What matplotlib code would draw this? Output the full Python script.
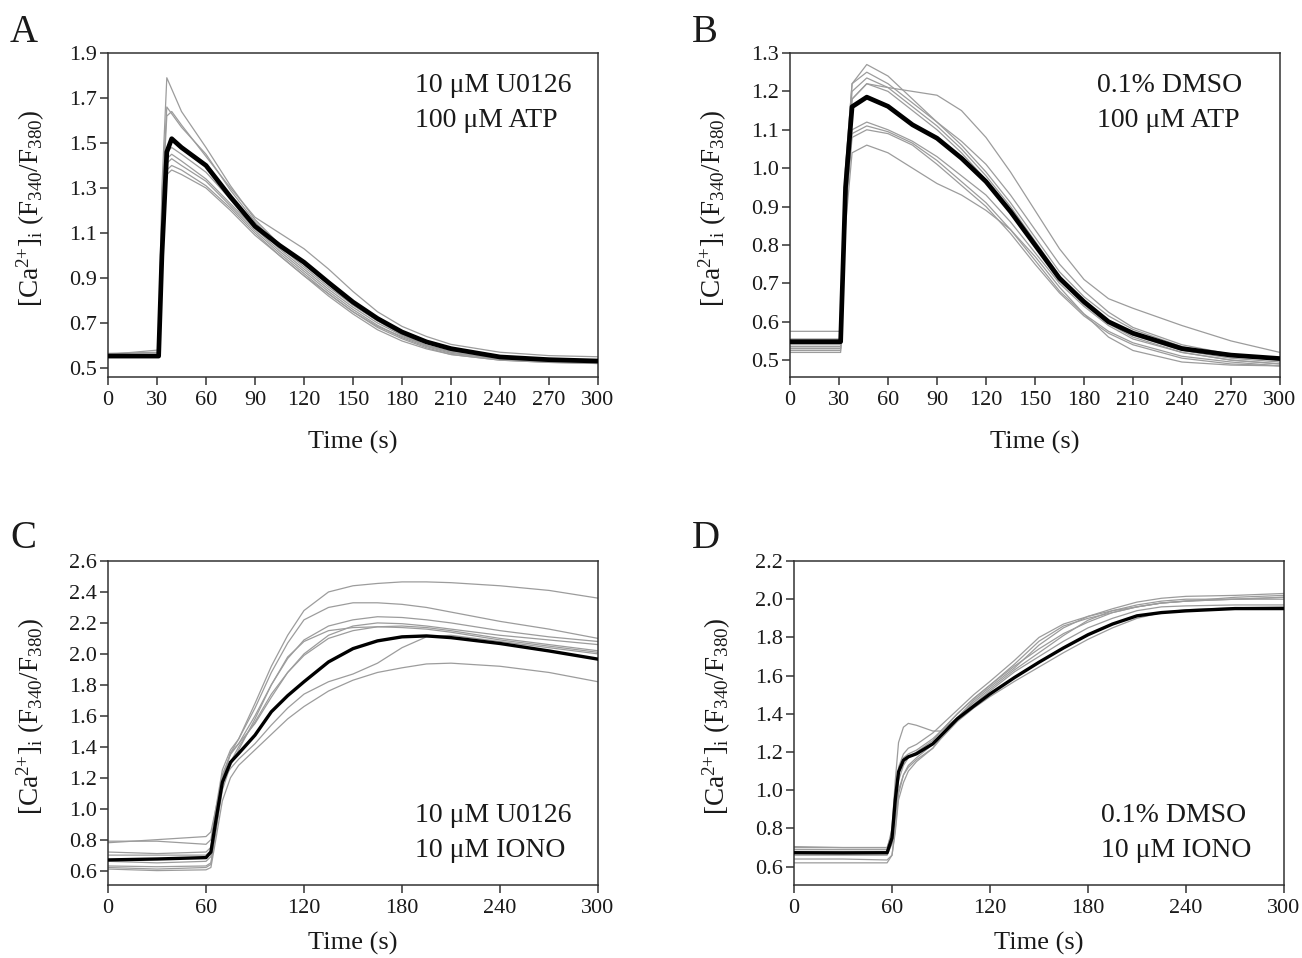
import matplotlib

matplotlib.use("Agg")

import matplotlib.pyplot as plt

FIG_W = 1302
FIG_H = 958
SERIF = "Liberation Serif"
TRACE_COLOR = "#9c9c9c"
FRAME_COLOR = "#333333"

# ---- panel A: 10 uM U0126 + 100 uM ATP ----
A_TIME = [0, 31, 33, 36, 39, 45, 60, 75, 90, 105, 120, 135, 150, 165, 180, 195, 210, 240, 270, 300]
A_MEAN = [0.553, 0.553, 1.00, 1.46, 1.519, 1.48, 1.40, 1.26, 1.13, 1.045, 0.97, 0.88, 0.793, 0.72, 0.66,
          0.616, 0.586, 0.549, 0.537, 0.531]
A_TRACES = [
    [0.56, 0.56, 1.30, 1.79, 1.74, 1.64, 1.48, 1.31, 1.16, 1.05, 0.96, 0.87, 0.78, 0.71, 0.65, 0.60, 0.57, 0.54, 0.535, 0.53],
    [0.555, 0.555, 1.25, 1.66, 1.63, 1.57, 1.45, 1.29, 1.15, 1.04, 0.95, 0.86, 0.78, 0.71, 0.65, 0.61, 0.58, 0.545, 0.535, 0.53],
    [0.565, 0.57, 1.20, 1.62, 1.64, 1.58, 1.44, 1.30, 1.17, 1.10, 1.03, 0.94, 0.84, 0.75, 0.685, 0.64, 0.605, 0.57, 0.555, 0.55],
    [0.55, 0.55, 1.15, 1.46, 1.48, 1.45, 1.37, 1.25, 1.13, 1.03, 0.94, 0.85, 0.77, 0.70, 0.645, 0.60, 0.57, 0.54, 0.53, 0.525],
    [0.56, 0.56, 1.10, 1.43, 1.45, 1.42, 1.34, 1.23, 1.12, 1.02, 0.93, 0.84, 0.76, 0.69, 0.635, 0.595, 0.565, 0.54, 0.53, 0.525],
    [0.55, 0.55, 1.10, 1.41, 1.43, 1.40, 1.33, 1.22, 1.11, 1.01, 0.92, 0.83, 0.75, 0.68, 0.63, 0.59, 0.56, 0.535, 0.525, 0.52],
    [0.56, 0.58, 1.10, 1.38, 1.40, 1.38, 1.31, 1.21, 1.10, 1.00, 0.91, 0.82, 0.74, 0.67, 0.62, 0.585, 0.56, 0.535, 0.525, 0.52],
    [0.555, 0.56, 1.05, 1.36, 1.38, 1.36, 1.30, 1.20, 1.09, 1.00, 0.91, 0.83, 0.75, 0.685, 0.64, 0.60, 0.575, 0.55, 0.54, 0.535],
]

# ---- panel B: 0.1% DMSO + 100 uM ATP ----
B_TIME = [0, 31, 34, 38, 47, 60, 75, 90, 105, 120, 135, 150, 165, 180, 195, 210, 240, 270, 300]
B_MEAN = [0.548, 0.548, 0.95, 1.16, 1.185, 1.161, 1.113, 1.078, 1.026, 0.965, 0.887, 0.80, 0.713, 0.652,
          0.60, 0.57, 0.53, 0.513, 0.504]
B_TRACES = [
    [0.535, 0.535, 1.00, 1.22, 1.27, 1.24, 1.18, 1.12, 1.06, 0.99, 0.91, 0.82, 0.73, 0.665, 0.615, 0.58, 0.535, 0.51, 0.50],
    [0.525, 0.525, 1.00, 1.22, 1.25, 1.22, 1.17, 1.12, 1.07, 1.01, 0.93, 0.84, 0.75, 0.68, 0.625, 0.585, 0.54, 0.515, 0.505],
    [0.575, 0.575, 1.00, 1.18, 1.22, 1.21, 1.20, 1.19, 1.15, 1.08, 0.99, 0.89, 0.79, 0.71, 0.66, 0.635, 0.59, 0.55, 0.52],
    [0.555, 0.555, 0.98, 1.20, 1.235, 1.21, 1.16, 1.11, 1.05, 0.98, 0.90, 0.81, 0.72, 0.655, 0.60, 0.565, 0.525, 0.505, 0.495],
    [0.53, 0.53, 0.95, 1.18, 1.22, 1.20, 1.15, 1.10, 1.04, 0.97, 0.89, 0.80, 0.71, 0.645, 0.595, 0.56, 0.52, 0.50, 0.49],
    [0.54, 0.54, 0.90, 1.10, 1.12, 1.10, 1.07, 1.03, 0.98, 0.93, 0.86, 0.78, 0.70, 0.64, 0.59, 0.555, 0.52, 0.50, 0.49],
    [0.53, 0.53, 0.90, 1.09, 1.11, 1.095, 1.065, 1.02, 0.965, 0.91, 0.84, 0.76, 0.68, 0.62, 0.575, 0.545, 0.51, 0.495, 0.485],
    [0.52, 0.52, 0.88, 1.08, 1.10, 1.09, 1.06, 1.01, 0.955, 0.90, 0.83, 0.75, 0.675, 0.615, 0.57, 0.54, 0.505, 0.49, 0.485],
    [0.535, 0.535, 0.85, 1.04, 1.06, 1.04, 1.00, 0.96, 0.93, 0.89, 0.84, 0.77, 0.69, 0.62, 0.56, 0.525, 0.495, 0.487, 0.485],
]

# ---- panel C: 10 uM U0126 + 10 uM IONO ----
C_TIME = [0, 30, 60, 63, 66, 70, 75, 80, 90, 100, 110, 120, 135, 150, 165, 180, 195, 210, 240, 270, 300]
C_MEAN = [0.669, 0.675, 0.684, 0.72, 0.92, 1.17, 1.30, 1.357, 1.475, 1.626, 1.73, 1.82, 1.948, 2.034, 2.084,
          2.11, 2.116, 2.105, 2.067, 2.019, 1.966]
C_TRACES = [
    [0.63, 0.625, 0.63, 0.65, 0.85, 1.18, 1.36, 1.45, 1.68, 1.92, 2.12, 2.28, 2.40, 2.44, 2.455, 2.465, 2.465, 2.46, 2.44, 2.41, 2.36],
    [0.79, 0.79, 0.77, 0.80, 1.00, 1.25, 1.38, 1.45, 1.65, 1.88, 2.07, 2.22, 2.30, 2.33, 2.33, 2.32, 2.30, 2.27, 2.21, 2.16, 2.10],
    [0.72, 0.71, 0.72, 0.75, 0.95, 1.22, 1.35, 1.42, 1.60, 1.80, 1.97, 2.09, 2.18, 2.22, 2.24, 2.235, 2.22, 2.20, 2.15, 2.11, 2.08],
    [0.70, 0.70, 0.70, 0.73, 0.93, 1.20, 1.36, 1.42, 1.55, 1.72, 1.88, 2.00, 2.12, 2.18, 2.20, 2.195, 2.18, 2.16, 2.12, 2.09, 2.06],
    [0.66, 0.65, 0.66, 0.69, 0.90, 1.15, 1.30, 1.40, 1.56, 1.74, 1.88, 1.99, 2.10, 2.15, 2.175, 2.18, 2.17, 2.15, 2.10, 2.06, 2.02],
    [0.78, 0.80, 0.82, 0.85, 1.00, 1.18, 1.26, 1.32, 1.42, 1.54, 1.65, 1.74, 1.82, 1.87, 1.94, 2.04, 2.11, 2.12, 2.08, 2.04, 2.00],
    [0.61, 0.60, 0.605, 0.62, 0.80, 1.05, 1.20, 1.28, 1.38, 1.48, 1.58, 1.66, 1.76, 1.83, 1.88, 1.91, 1.935, 1.94, 1.92, 1.88, 1.82],
    [0.62, 0.61, 0.62, 0.64, 0.85, 1.12, 1.28, 1.38, 1.58, 1.80, 1.98, 2.08, 2.15, 2.17, 2.175, 2.17, 2.16, 2.14, 2.09, 2.05, 2.01],
]

# ---- panel D: 0.1% DMSO + 10 uM IONO ----
D_TIME = [0, 30, 57, 60, 62, 64, 67, 70, 75, 85, 90, 100, 110, 120, 135, 150, 165, 180, 195, 210, 225, 240, 270, 300]
D_MEAN = [0.673, 0.672, 0.673, 0.75, 0.95, 1.096, 1.157, 1.175, 1.191, 1.243, 1.287, 1.374, 1.44, 1.504, 1.59,
          1.67, 1.745, 1.814, 1.87, 1.913, 1.93, 1.939, 1.951, 1.951]
D_TRACES = [
    [0.69, 0.69, 0.69, 0.80, 1.05, 1.25, 1.33, 1.35, 1.34, 1.31, 1.31, 1.38, 1.47, 1.54, 1.64, 1.76, 1.85, 1.91, 1.94, 1.96, 1.98, 1.99, 2.00, 2.01],
    [0.70, 0.70, 0.70, 0.78, 0.98, 1.12, 1.19, 1.22, 1.24, 1.30, 1.34, 1.42, 1.50, 1.57, 1.68, 1.80, 1.87, 1.91, 1.95, 1.985, 2.005, 2.015, 2.02, 2.03],
    [0.66, 0.66, 0.66, 0.72, 0.90, 1.05, 1.13, 1.17, 1.20, 1.26, 1.31, 1.40, 1.48, 1.55, 1.66, 1.78, 1.86, 1.90, 1.93, 1.96, 1.98, 1.99, 2.01, 2.02],
    [0.62, 0.62, 0.62, 0.66, 0.80, 0.98, 1.08, 1.13, 1.17, 1.24, 1.29, 1.38, 1.46, 1.53, 1.63, 1.72, 1.81, 1.89, 1.94, 1.97, 1.99, 2.00, 2.00, 2.00],
    [0.68, 0.68, 0.68, 0.72, 0.85, 1.00, 1.08, 1.12, 1.16, 1.22, 1.28, 1.37, 1.45, 1.52, 1.62, 1.70, 1.78, 1.85, 1.90, 1.94, 1.96, 1.965, 1.97, 1.97],
    [0.64, 0.64, 0.635, 0.66, 0.78, 0.95, 1.04, 1.10, 1.15, 1.22, 1.27, 1.36, 1.43, 1.49, 1.57, 1.645, 1.72, 1.79, 1.85, 1.90, 1.93, 1.945, 1.955, 1.96],
    [0.705, 0.70, 0.70, 0.76, 0.96, 1.10, 1.17, 1.19, 1.21, 1.27, 1.31, 1.40, 1.48, 1.55, 1.65, 1.74, 1.82, 1.88, 1.93, 1.96, 1.98, 1.99, 2.00, 2.01],
]

A_YTICKS = [0.5, 0.7, 0.9, 1.1, 1.3, 1.5, 1.7, 1.9]
B_YTICKS = [0.5, 0.6, 0.7, 0.8, 0.9, 1.0, 1.1, 1.2, 1.3]
C_YTICKS = [0.6, 0.8, 1.0, 1.2, 1.4, 1.6, 1.8, 2.0, 2.2, 2.4, 2.6]
D_YTICKS = [0.6, 0.8, 1.0, 1.2, 1.4, 1.6, 1.8, 2.0, 2.2]
XTICKS_ATP = [0, 30, 60, 90, 120, 150, 180, 210, 240, 270, 300]
XTICKS_IONO = [0, 60, 120, 180, 240, 300]

A_LABEL = ["10 \u03bcM U0126", "100 \u03bcM ATP"]
B_LABEL = ["0.1% DMSO", "100 \u03bcM ATP"]
C_LABEL = ["10 \u03bcM U0126", "10 \u03bcM IONO"]
D_LABEL = ["0.1% DMSO", "10 \u03bcM IONO"]

# "{+}" keeps mathtext from spacing the plus as a binary operator
Y_LABEL = r"[Ca$^{2{+}}$]$_{\mathrm{i}}$ (F$_{340}$/F$_{380}$)"

plt.rcParams["font.family"] = [SERIF, "DejaVu Serif"]
plt.rcParams["mathtext.fontset"] = "custom"
plt.rcParams["mathtext.rm"] = SERIF
plt.rcParams["mathtext.it"] = SERIF + ":italic"
plt.rcParams["mathtext.bf"] = SERIF + ":bold"


def _px_axes(fig, left, top, right, bottom):
    return fig.add_axes([left / FIG_W, 1 - bottom / FIG_H, (right - left) / FIG_W, (bottom - top) / FIG_H])


def _draw_panel(ax, time, traces, mean, ylim, yticks, xticks, label_lines, label_y, mean_lw, xlabel_y):
    for trace in traces:
        ax.plot(time, trace, color=TRACE_COLOR, linewidth=0.9, zorder=2)
    ax.plot(time, mean, color="black", linewidth=mean_lw, solid_joinstyle="round", zorder=3)
    ax.set_xlim(0, 300)
    ax.set_ylim(*ylim)
    ax.set_xticks(xticks)
    ax.set_yticks(yticks)
    ax.set_yticklabels([f"{v:.1f}" for v in yticks])
    ax.tick_params(direction="out", length=6, width=1.1, pad=2, labelsize=16, colors=FRAME_COLOR,
                   labelcolor="#1a1a1a", top=False, right=False)
    ax.tick_params(axis="x", pad=4)
    for spine in ax.spines.values():
        spine.set_color(FRAME_COLOR)
        spine.set_linewidth(1.1)
    ax.set_xlabel("Time (s)", fontsize=19, color="#1a1a1a")
    ax.set_ylabel(Y_LABEL, fontsize=19.5, color="#1a1a1a")
    ax.xaxis.set_label_coords(0.5, xlabel_y)
    ax.yaxis.set_label_coords(-0.125, 0.52)
    for line, ypos in zip(label_lines, label_y):
        ax.text(0.627, ypos, line, transform=ax.transAxes, fontsize=20, va="center", ha="left",
                color="#1a1a1a")


fig = plt.figure(figsize=(FIG_W / 100, FIG_H / 100), dpi=100)
fig.patch.set_facecolor("white")

ax_a = _px_axes(fig, 108, 53, 598, 377)
ax_b = _px_axes(fig, 790, 53, 1280, 377)
ax_c = _px_axes(fig, 108, 561, 598, 885)
ax_d = _px_axes(fig, 794, 561, 1284, 885)

TOP_Y = [0.90, 0.793]
BOTTOM_Y = [0.216, 0.108]

_draw_panel(ax_a, A_TIME, A_TRACES, A_MEAN, (0.46, 1.9), A_YTICKS, XTICKS_ATP, A_LABEL, TOP_Y, 3.4, -0.165)
_draw_panel(ax_b, B_TIME, B_TRACES, B_MEAN, (0.456, 1.3), B_YTICKS, XTICKS_ATP, B_LABEL, TOP_Y, 3.4, -0.165)
_draw_panel(ax_c, C_TIME, C_TRACES, C_MEAN, (0.507, 2.6), C_YTICKS, XTICKS_IONO, C_LABEL, BOTTOM_Y, 2.4, -0.145)
_draw_panel(ax_d, D_TIME, D_TRACES, D_MEAN, (0.504, 2.2), D_YTICKS, XTICKS_IONO, D_LABEL, BOTTOM_Y, 2.4, -0.145)

for letter, (px, py) in zip("ABCD", [(10, 42), (692, 42), (10, 548), (692, 548)]):
    fig.text(px / FIG_W, 1 - py / FIG_H, letter, fontsize=28, ha="left", va="baseline", color="#1a1a1a")

fig.savefig("out.png", dpi=100, facecolor="white")
